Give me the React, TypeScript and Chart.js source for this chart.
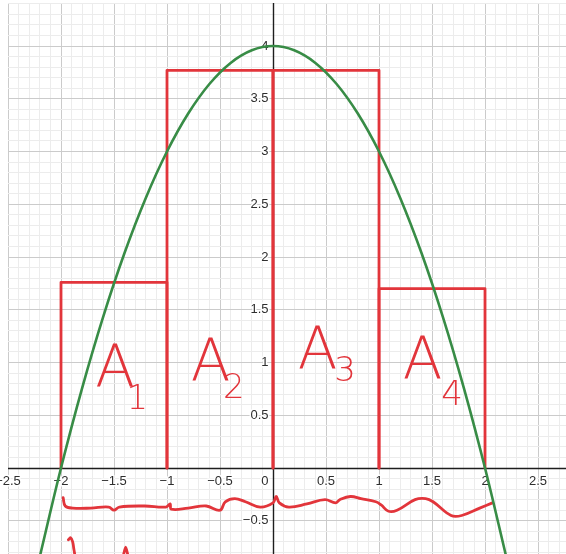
import { useEffect, useRef } from 'react';
import { Chart, registerables } from 'chart.js';

Chart.register(...registerables);

// Parabola
const curveX = [-2.2, -2.0, -1.8, -1.6, -1.4, -1.2, -1.0, -0.8, -0.6, -0.4, -0.2, 0, 0.2, 0.4, 0.6, 0.8, 1.0, 1.2, 1.4, 1.6, 1.8, 2.0, 2.2];
const curveY = [-0.84, 0, 0.76, 1.44, 2.04, 2.56, 3.0, 3.36, 3.64, 3.84, 3.96, 4, 3.96, 3.84, 3.64, 3.36, 3.0, 2.56, 2.04, 1.44, 0.76, 0, -0.84];

// Hand-drawn rectangles
const rectLeft = [-2, -1, 0, 1];
const rectRight = [-1, 0, 1, 2];
const rectTop = [1.76, 3.77, 3.77, 1.7];

// Hand-drawn brace under the x axis
const braceX = [-1.98, -1.96, -1.89, -1.72, -1.55, -1.5, -1.45, -1.21, -1.01, -0.97, -0.96, -0.8, -0.63, -0.5, -0.45, -0.36, -0.26, -0.12, 0.0, 0.03, 0.06, 0.15, 0.32, 0.49, 0.59, 0.63, 0.73, 0.83, 0.97, 1.02, 1.09, 1.17, 1.34, 1.44, 1.51, 1.68, 1.78, 1.95, 2.07];
const braceY = [-0.28, -0.36, -0.38, -0.38, -0.37, -0.4, -0.37, -0.36, -0.37, -0.34, -0.39, -0.38, -0.36, -0.4, -0.32, -0.29, -0.32, -0.37, -0.33, -0.27, -0.33, -0.37, -0.34, -0.3, -0.33, -0.3, -0.27, -0.29, -0.32, -0.35, -0.41, -0.4, -0.3, -0.29, -0.32, -0.45, -0.45, -0.38, -0.33];

// Cut-off handwriting strokes at the bottom edge
const scrawl1X = [-1.93, -1.91, -1.89, -1.88, -1.87];
const scrawl1Y = [-0.68, -0.66, -0.7, -0.76, -0.82];
const scrawl2X = [-1.41, -1.39, -1.37];
const scrawl2Y = [-0.82, -0.75, -0.82];

// Axis tick labels
const xTickValues = [-2.5, -2, -1.5, -1, -0.5, 0, 0.5, 1, 1.5, 2, 2.5];
const xTickLabels = ['−2.5', '−2', '−1.5', '−1', '−0.5', '0', '0.5', '1', '1.5', '2', '2.5'];
const yTickValues = [-0.5, 0.5, 1, 1.5, 2, 2.5, 3, 3.5, 4];
const yTickLabels = ['−0.5', '0.5', '1', '1.5', '2', '2.5', '3', '3.5', '4'];

// Area labels
const areaNames = ['A', 'A', 'A', 'A'];
const areaSubs = ['1', '2', '3', '4'];
const areaX = [-1.49, -0.59, 0.42, 1.41];
const areaY = [0.91, 0.97, 1.08, 0.99];
const subX = [-1.28, -0.37, 0.68, 1.69];
const subY = [0.64, 0.75, 0.91, 0.68];

const X_MIN = -2.5;
const X_MAX = 2.764;
const Y_MIN = -0.815;
const Y_MAX = 4.408;

const RED = '#e2353b';
const GREEN = '#388c46';

function gridTicks(min: number, max: number, step: number) {
  const out: { value: number }[] = [{ value: min }];
  const start = Math.ceil(min / step - 1e-9);
  const end = Math.floor(max / step + 1e-9);
  for (let i = start; i <= end; i++) {
    const v = Math.round(i * step * 1000) / 1000;
    if (v > min + 1e-9 && v < max - 1e-9) out.push({ value: v });
  }
  out.push({ value: max });
  return out;
}

function gridColor(ctx: any) {
  const v = ctx.tick ? ctx.tick.value : 0;
  if (Math.abs(v * 2 - Math.round(v * 2)) < 1e-6) return '#cbcbcb';
  return '#ececec';
}

const labelPlugin = {
  id: 'desmosLabels',
  beforeDatasetsDraw(chart: any) {
    const ctx = chart.ctx;
    const xs = chart.scales.x;
    const ys = chart.scales.y;
    const area = chart.chartArea;
    const x0 = Math.round(xs.getPixelForValue(0)) + 0.5;
    const y0 = Math.round(ys.getPixelForValue(0)) + 0.5;
    ctx.save();
    // axes
    ctx.strokeStyle = '#1e1e1e';
    ctx.lineWidth = 1.4;
    ctx.beginPath();
    ctx.moveTo(x0, area.top);
    ctx.lineTo(x0, area.bottom);
    ctx.moveTo(area.left, y0);
    ctx.lineTo(area.right, y0);
    ctx.stroke();
    // tick labels
    ctx.font = "13px 'Liberation Sans', Arial, sans-serif";
    ctx.textBaseline = 'middle';
    ctx.lineJoin = 'round';
    ctx.lineWidth = 3;
    ctx.strokeStyle = 'rgba(255,255,255,0.95)';
    ctx.fillStyle = '#2e2e2e';
    xTickValues.forEach((v, i) => {
      let px = xs.getPixelForValue(v);
      if (v === 0) {
        ctx.textAlign = 'right';
        px = x0 - 5;
      } else {
        ctx.textAlign = 'center';
      }
      ctx.strokeText(xTickLabels[i], px, y0 + 13);
      ctx.fillText(xTickLabels[i], px, y0 + 13);
    });
    ctx.textAlign = 'right';
    yTickValues.forEach((v, i) => {
      const py = ys.getPixelForValue(v);
      ctx.strokeText(yTickLabels[i], x0 - 5, py);
      ctx.fillText(yTickLabels[i], x0 - 5, py);
    });
    ctx.restore();
  },
  afterDatasetsDraw(chart: any) {
    const ctx = chart.ctx;
    const xs = chart.scales.x;
    const ys = chart.scales.y;
    ctx.save();
    ctx.fillStyle = RED;
    ctx.textAlign = 'center';
    ctx.textBaseline = 'middle';
    areaNames.forEach((n, i) => {
      ctx.font = "200 58px 'DejaVu Sans', 'Open Sans', sans-serif";
      ctx.fillText(n, xs.getPixelForValue(areaX[i]), ys.getPixelForValue(areaY[i]));
      ctx.font = "200 34px 'DejaVu Sans', 'Open Sans', sans-serif";
      ctx.fillText(areaSubs[i], xs.getPixelForValue(subX[i]), ys.getPixelForValue(subY[i]));
    });
    ctx.restore();
  },
};

function redStroke(xs: number[], ys: number[], tension: number) {
  return {
    type: 'line',
    data: xs.map((x, i) => ({ x, y: ys[i] })),
    borderColor: RED,
    borderWidth: 2.8,
    pointRadius: 0,
    tension,
    fill: false,
    borderCapStyle: 'round',
    borderJoinStyle: 'round',
  } as any;
}

export default function App() {
  const ref = useRef<HTMLCanvasElement | null>(null);

  useEffect(() => {
    if (!ref.current) return;
    const rectSets = rectLeft.map((l, i) =>
      redStroke([l, l, rectRight[i], rectRight[i]], [0, rectTop[i], rectTop[i], 0], 0)
    );
    const chart = new Chart(ref.current, {
      type: 'scatter',
      data: {
        datasets: [
          {
            type: 'line',
            data: curveX.map((x, i) => ({ x, y: curveY[i] })),
            borderColor: GREEN,
            borderWidth: 2.6,
            pointRadius: 0,
            tension: 0.4,
            fill: false,
          } as any,
          ...rectSets,
          redStroke(braceX, braceY, 0.4),
          redStroke(scrawl1X, scrawl1Y, 0.4),
          redStroke(scrawl2X, scrawl2Y, 0.2),
        ],
      },
      options: {
        animation: false,
        responsive: false,
        maintainAspectRatio: false,
        devicePixelRatio: 1,
        layout: { padding: { left: 8, top: 3, right: 0, bottom: 0 } },
        plugins: { legend: { display: false }, tooltip: { enabled: false } },
        scales: {
          x: {
            type: 'linear',
            min: X_MIN,
            max: X_MAX,
            afterBuildTicks: (scale: any) => {
              scale.ticks = gridTicks(X_MIN, X_MAX, 0.1);
            },
            ticks: { display: false },
            border: { display: false },
            grid: { color: gridColor, lineWidth: 1, drawTicks: false },
          },
          y: {
            type: 'linear',
            min: Y_MIN,
            max: Y_MAX,
            afterBuildTicks: (scale: any) => {
              scale.ticks = gridTicks(Y_MIN, Y_MAX, 0.1);
            },
            ticks: { display: false },
            border: { display: false },
            grid: { color: gridColor, lineWidth: 1, drawTicks: false },
          },
        },
      },
      plugins: [labelPlugin],
    });
    return () => chart.destroy();
  }, []);

  return (
    <div style={{ position: 'absolute', left: 0, top: 0, width: 566, height: 554, background: '#fff' }}>
      <canvas ref={ref} width={566} height={554} style={{ display: 'block' }} />
    </div>
  );
}
